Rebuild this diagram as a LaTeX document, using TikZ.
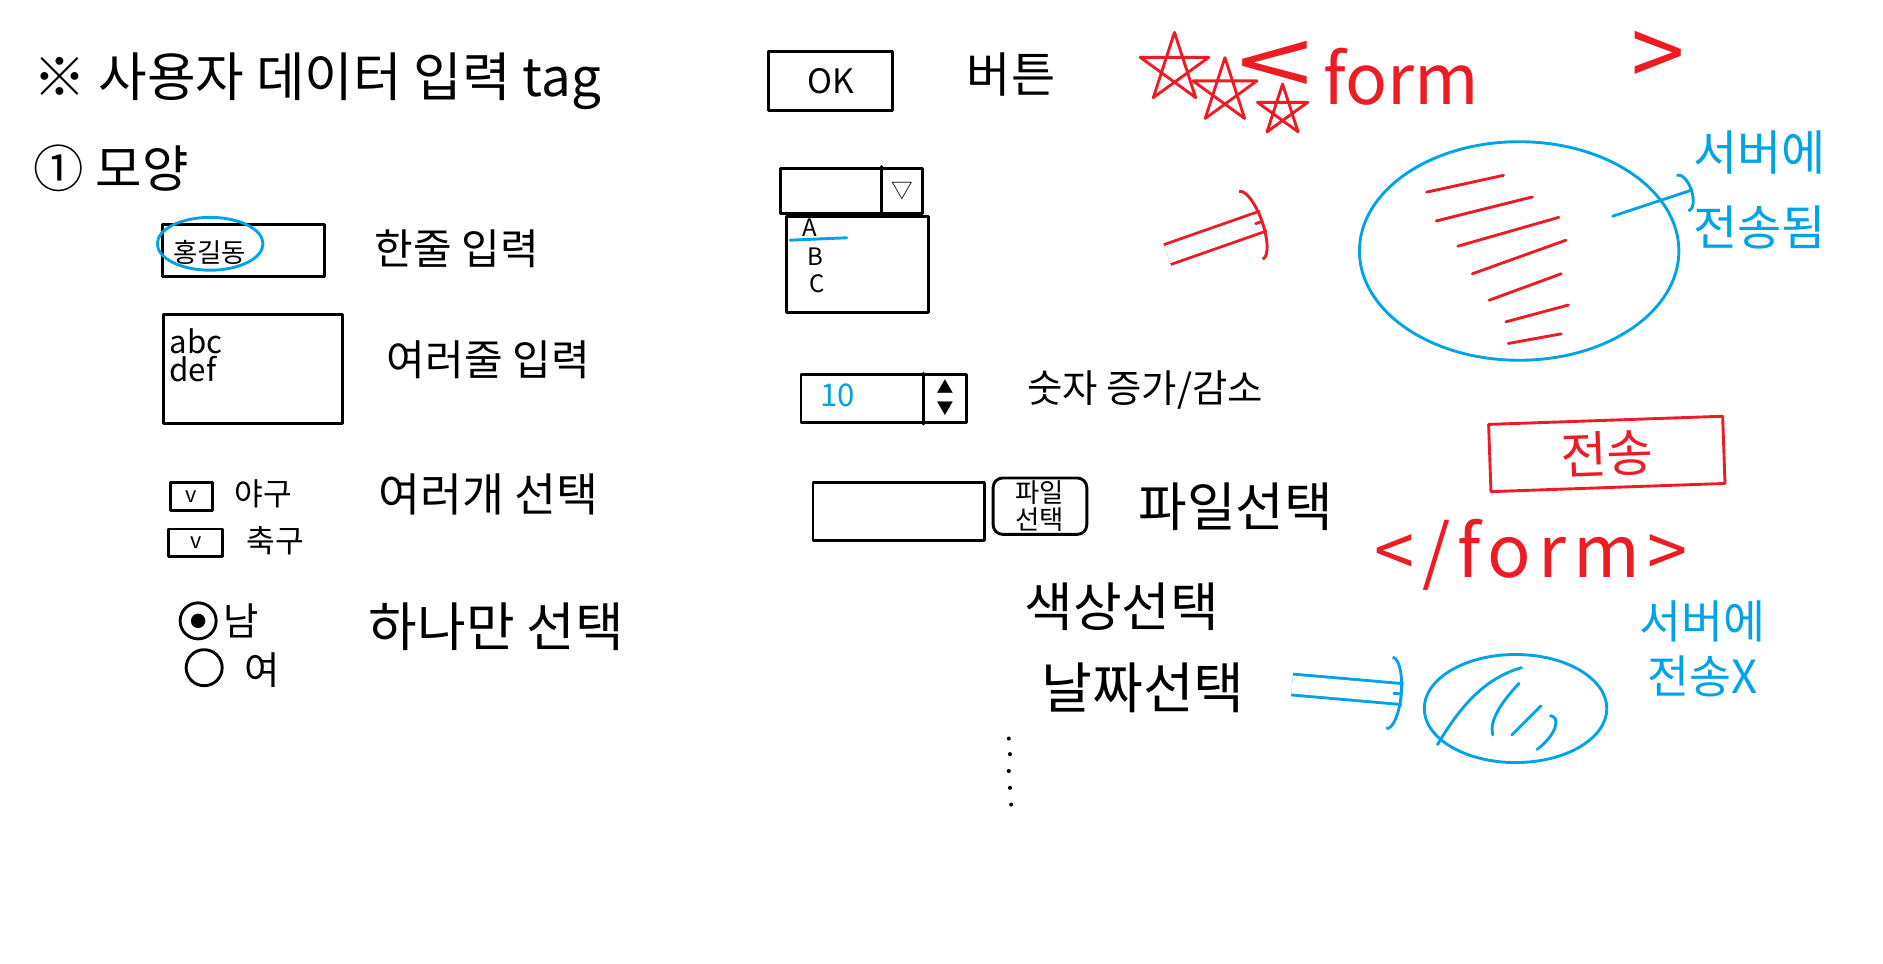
\documentclass[tikz,border=0pt]{standalone}
\usepackage{fontspec}
\setmainfont{Noto Sans CJK KR}
\usetikzlibrary{shapes.geometric, arrows.meta, positioning, calc}

\definecolor{penred}{RGB}{237,28,36}
\definecolor{penblue}{RGB}{0,162,232}

\begin{document}
\begin{tikzpicture}[x=1pt, y=-1pt,
    pen/.style={line width=2.4pt, line cap=round, line join=round},
    widget/.style={pen, draw=black, rectangle, inner sep=0pt},
    lbl/.style={inner sep=0pt, anchor=west, font=\fontsize{#1}{#1}\selectfont},
    redpen/.style={pen, draw=penred},
    bluepen/.style={pen, draw=penblue},
    redtxt/.style={text=penred},
    bluetxt/.style={text=penblue},
    dbl/.style={double distance=15pt, line cap=butt},
    barb/.style={pen, -{Arc Barb[length=11pt, width=62pt]}}
]
\fill[white] (0,0) rectangle (1568,802);
\useasboundingbox (0,0) rectangle (1568,802);

% Heading
\node[lbl=44] (title) at (28,68) {※ 사용자 데이터 입력 tag};
\node[lbl=42] (shape) at (28,140) {① 모양};

% Column 1: input widgets
\node[widget, minimum width=135, minimum height=43] (single) at (202.5,208.5) {};
\node[lbl=22] (singletxt) at (144,210) {홍길동};
\node[bluepen, ellipse, minimum width=88, minimum height=44] (focus) at (175,203) {};
\node[lbl=35] (singlelbl) at (312,207) {한줄 입력};

\node[widget, minimum width=149, minimum height=91] (multi) at (210.5,307.5) {};
\node[lbl=26] (abc) at (141,284) {abc};
\node[lbl=26] (def) at (141,307) {def};
\node[lbl=35] (multilbl) at (322,300) {여러줄 입력};

\node[widget, minimum width=35, minimum height=23, font=\fontsize{18}{18}\selectfont] (chk1) at (159.5,413.5) {v};
\node[lbl=26] (chk1txt) at (195,411) {야구};
\node[widget, minimum width=45, minimum height=23, font=\fontsize{18}{18}\selectfont] (chk2) at (163,452) {v};
\node[lbl=26] (chk2txt) at (205,450) {축구};
\node[lbl=38] (chklbl) at (315,412) {여러개 선택};

\node[pen, draw, circle, minimum size=30, inner sep=0pt] (rad1) at (165,517) {};
\fill (rad1.center) circle (6);
\node[lbl=32] (rad1txt) at (186,517) {남};
\node[pen, draw, circle, minimum size=30, inner sep=0pt] (rad2) at (170,556) {};
\node[lbl=32] (rad2txt) at (203,558) {여};
\node[lbl=44] (radlbl) at (307,522) {하나만 선택};

% Column 2: buttons and pickers
\node[widget, minimum width=103, minimum height=49, font=\fontsize{28}{28}\selectfont] (ok) at (691.5,67.5) {OK};
\node[lbl=40] (oklbl) at (805,62) {버튼};

\node[widget, minimum width=118, minimum height=38] (combo) at (709,159) {};
\draw[pen] ([xshift=-35]combo.north east) -- ([xshift=-35]combo.south east);
\node[font=\fontsize{18}{18}\selectfont] (comboarr) at (751,159) {▽};
\node[widget, minimum width=118, minimum height=80, anchor=north, xshift=5] (list) at (combo.south) {};
\node[lbl=20] (itema) at (668,190) {A};
\node[lbl=20] (itemb) at (672,214) {B};
\node[lbl=20] (itemc) at (674,236) {C};
\draw[bluepen] (658,200) -- (705,198);

\node[widget, minimum width=138, minimum height=40] (spin) at (736,332) {};
\draw[pen] ([xshift=-37]spin.north east) -- ([xshift=-37]spin.south east);
\node[bluetxt, lbl=26] (spinval) at (683,329) {10};
\node[font=\fontsize{14}{14}\selectfont] (spinup) at (787,322) {▲};
\node[font=\fontsize{14}{14}\selectfont] (spindn) at (787,340) {▼};
\node[lbl=32] (spinlbl) at (855,325) {숫자 증가/감소};

\node[widget, minimum width=143, minimum height=48] (file) at (748.5,426) {};
\node[widget, rounded corners=8pt, minimum width=78, minimum height=47, align=center,
      font=\fontsize{22}{22}\selectfont] (filebtn) at (866,421.5) {파일\\선택};
\node[lbl=44] (filelbl) at (948,422) {파일선택};
\node[lbl=44] (colorlbl) at (853,505) {색상선택};
\node[lbl=46] (datelbl) at (867,573) {날짜선택};
\fill (840,615) circle (1.7) (841,628) circle (1.7) (840,642) circle (1.7)
      (841,656) circle (1.7) (842,670) circle (1.7);

% Column 3: form
\draw[redpen] (978,57) +(-90:30) -- +(54:30) -- +(198:30) -- +(-18:30) -- +(126:30) -- cycle;
\draw[redpen] (1020,76) +(-90:28) -- +(54:28) -- +(198:28) -- +(-18:28) -- +(126:28) -- cycle;
\draw[redpen] (1068,92) +(-90:22) -- +(54:22) -- +(198:22) -- +(-18:22) -- +(126:22) -- cycle;
\node[redtxt, lbl=80, xscale=1.4] (formlt) at (1030,58) {<};
\node[redtxt, lbl=58] (formtop) at (1102,64) {form};
\node[redtxt, lbl=80] (formgt) at (1358,50) {>};

\coordinate (redtail) at (972,212);
\coordinate (redtip) at (1052,184);
\draw[redpen, dbl] (redtail) -- (redtip);
\draw[redpen, barb] ($(redtail)!0.92!(redtip)$) -- (redtip);

\node[bluepen, ellipse, minimum width=266, minimum height=182] (server) at (1265,209) {};
\draw[redpen] (1188,160) -- (1252,146);
\draw[redpen] (1196,184) -- (1276,164);
\draw[redpen] (1214,205) -- (1298,181);
\draw[redpen] (1226,228) -- (1304,200);
\draw[redpen] (1240,250) -- (1300,228);
\draw[redpen] (1254,268) -- (1306,254);
\draw[redpen] (1256,286) -- (1300,278);

\node[bluetxt, anchor=center, align=center, inner sep=0pt, font=\fontsize{40}{62}\selectfont] (sent) at (1465,158) {서버에\\전송됨};
\coordinate (srvout) at (1343,180);
\draw[bluepen, -{Arc Barb[length=9pt, width=34pt]}] (srvout) -- (sent.west);

\node[redpen, redtxt, rectangle, rotate=2, minimum width=195, minimum height=56,
      font=\fontsize{42}{42}\selectfont] (send) at (1338,378) {전송};
\node[redtxt, anchor=center, inner sep=0pt,
      font=\fontsize{60}{60}\selectfont\addfontfeature{LetterSpace=10}] (formend) at (1275,462) {</form>};

\node[bluepen, ellipse, minimum width=152, minimum height=90] (client) at (1262,590) {};
\coordinate (bluetail) at (1076,570);
\coordinate (bluetip) at (1168,578);
\draw[bluepen, dbl] (bluetail) -- (bluetip);
\draw[bluepen, barb] ($(bluetail)!0.92!(bluetip)$) -- (bluetip);
\draw[bluepen] (1197,620) .. controls (1215,590) and (1235,565) .. (1267,556);
\draw[bluepen] (1243,612) .. controls (1240,600) and (1250,585) .. (1265,569);
\draw[bluepen] (1259,612) -- (1283,588);
\draw[bluepen] (1291,596) .. controls (1300,597) and (1296,612) .. (1280,624);

\node[bluetxt, anchor=center, align=center, inner sep=0pt,
      font=\fontsize{38}{46}\selectfont] (notsent) at (1418,540) {서버에\\전송X};
\end{tikzpicture}
\end{document}
